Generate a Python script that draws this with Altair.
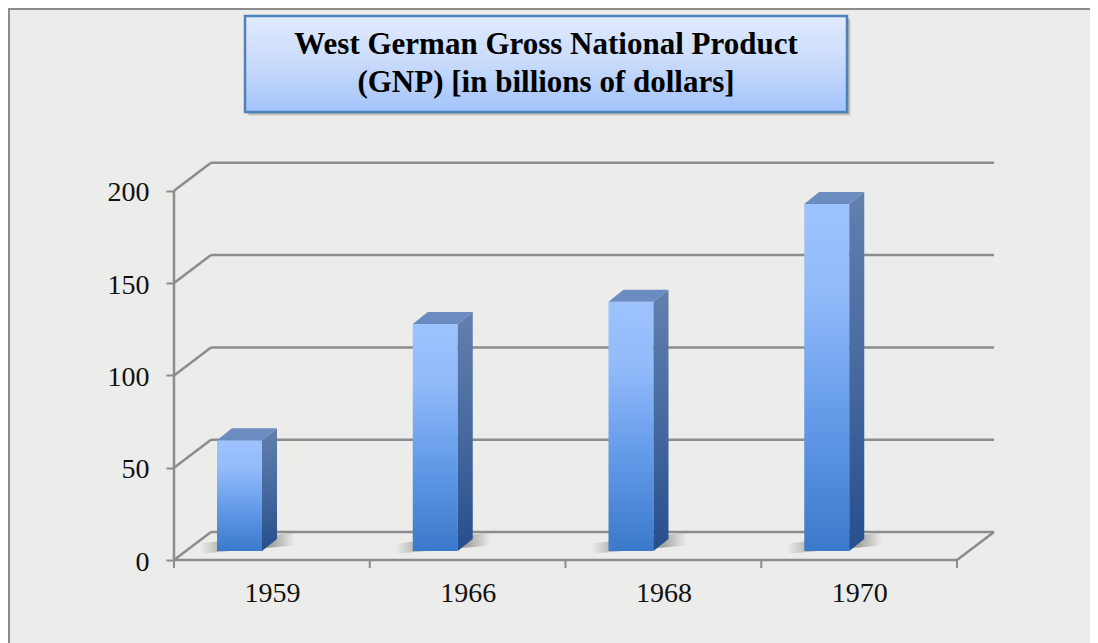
import altair as alt
import pandas as pd

years = ["1959", "1966", "1968", "1970"]
gnp = [60, 123, 135, 188]
gridvals = [0, 50, 100, 150, 200]
title_lines = ["West German Gross National Product", "(GNP) [in billions of  dollars]"]

W, H = 1082, 635
PX_X, PX_Y = 195.75, 1.846       # pixels per category / per unit
X0, Y0 = 166, 552                # origin of the front axis inside the chart
DEPTH_X, DEPTH_Y = 37 / PX_X, 28 / PX_Y
BAR_L, BAR_R = 43 / PX_X, 88 / PX_X
BAR_BASE = 9 / PX_Y
SIDE_X, SIDE_Y = 15 / PX_X, 12 / PX_Y
NCAT = len(years)

xs = alt.Scale(domain=[-X0 / PX_X, (W - X0) / PX_X], range=[0, W], nice=False, zero=False)
ys = alt.Scale(domain=[(Y0 - H) / PX_Y, Y0 / PX_Y], range=[H, 0], nice=False, zero=False)
SERIF = "Liberation Serif"
GRAY = "#8c8c8c"

x_axis = alt.Axis(
    values=[i + 0.5 for i in range(NCAT)],
    labelExpr="['" + "','".join(years) + "'][floor(datum.value)]",
    offset=-83, domain=False, ticks=False, grid=False, labelPadding=19,
    labelFont=SERIF, labelFontSize=28, labelColor="#111111", labelAngle=0,
    labelFlush=False, labelOverlap=False, title=None)
y_axis = alt.Axis(
    values=gridvals, offset=-166, domain=False, grid=False,
    tickSize=8, tickColor=GRAY, tickWidth=2, labelPadding=17, labelOffset=2,
    labelFont=SERIF, labelFontSize=28, labelColor="#111111",
    labelOverlap=False, labelFlush=False, title=None)


def X(f):
    return alt.X(f, scale=xs, title=None, axis=x_axis)


def Y(f):
    return alt.Y(f, scale=ys, title=None, stack=None, axis=y_axis)


bars = pd.DataFrame({"year": years, "i": range(NCAT), "v": gnp})
bars["x0"] = bars.i + BAR_L
bars["x1"] = bars.i + BAR_R
bars["base"] = BAR_BASE
bars["top"] = BAR_BASE + bars.v

side, topf, shadow = [], [], []
for r in bars.itertuples():
    side += [
        dict(i=r.i, x=r.x1, y=r.top, y2=r.base),
        dict(i=r.i, x=r.x1 + SIDE_X, y=r.top + SIDE_Y, y2=r.base + SIDE_Y),
    ]
    topf += [
        dict(i=r.i, x=r.x0, y=r.top, y2=r.top),
        dict(i=r.i, x=r.x0 + SIDE_X, y=r.top + SIDE_Y, y2=r.top),
        dict(i=r.i, x=r.x1, y=r.top + SIDE_Y, y2=r.top),
        dict(i=r.i, x=r.x1 + SIDE_X, y=r.top + SIDE_Y, y2=r.top + SIDE_Y),
    ]
    shadow += [
        dict(i=r.i, x=r.x0 - 17 / PX_X, y=BAR_BASE + 4, y2=BAR_BASE - 1.5),
        dict(i=r.i, x=r.x1 + 33 / PX_X, y=BAR_BASE + 10, y2=BAR_BASE + 3),
    ]

back = pd.DataFrame({"v": gridvals})
back["vb"] = back.v + DEPTH_Y
back["xa"] = DEPTH_X
back["xb"] = NCAT + DEPTH_X
diag = pd.DataFrame(
    [dict(g=v, x=0, y=v) for v in gridvals]
    + [dict(g=v, x=DEPTH_X, y=v + DEPTH_Y) for v in gridvals]
    + [dict(g=-1, x=NCAT, y=0), dict(g=-1, x=NCAT + DEPTH_X, y=DEPTH_Y)]
)
ticks = pd.DataFrame({"x": range(NCAT + 1), "y": 0.0, "y2": -8 / PX_Y})
one = pd.DataFrame({"a": [0]})


def grad(stops, x2=0, y2=1):
    return alt.Gradient(
        gradient="linear", x1=0, y1=0, x2=x2, y2=y2,
        stops=[alt.GradientStop(offset=o, color=c) for o, c in stops],
    )


g_back = alt.Chart(back).mark_rule(color=GRAY, strokeWidth=2.5).encode(
    x=X("xa:Q"), x2="xb:Q", y=Y("vb:Q"))
g_front = alt.Chart(pd.DataFrame({"a": [0.0], "b": [float(NCAT)], "v": [0.0]})).mark_rule(
    color=GRAY, strokeWidth=2.5).encode(x=X("a:Q"), x2="b:Q", y=Y("v:Q"))
g_axis = alt.Chart(pd.DataFrame({"a": [0.0], "v": [0.0], "w": [200.0]})).mark_rule(
    color=GRAY, strokeWidth=2.5).encode(x=X("a:Q"), y=Y("v:Q"), y2="w:Q")
g_diag = alt.Chart(diag).mark_line(color=GRAY, strokeWidth=2.5).encode(
    x=X("x:Q"), y=Y("y:Q"), detail="g:N")
g_ticks = alt.Chart(ticks).mark_rule(color=GRAY, strokeWidth=2).encode(
    x=X("x:Q"), y=Y("y:Q"), y2="y2:Q")

shadow_l = alt.Chart(pd.DataFrame(shadow)).mark_area(
    orient="vertical",
    color=grad([(0, "rgba(90,90,85,0)"), (0.2, "rgba(90,90,85,0.35)"),
                (0.75, "rgba(90,90,85,0.5)"), (1, "rgba(90,90,85,0)")], x2=1, y2=0),
).encode(x=X("x:Q"), y=Y("y:Q"), y2="y2:Q", detail="i:N")

side_l = alt.Chart(pd.DataFrame(side)).mark_area(
    orient="vertical",
    color=grad([(0, "#6380ad"), (0.5, "#47699f"), (1, "#264f8d")]),
).encode(x=X("x:Q"), y=Y("y:Q"), y2="y2:Q", detail="i:N")

top_l = alt.Chart(pd.DataFrame(topf)).mark_area(orient="vertical", color="#6b8cc0").encode(
    x=X("x:Q"), y=Y("y:Q"), y2="y2:Q", detail="i:N")

front_l = alt.Chart(bars).mark_rect(
    color=grad([(0, "#9dc3ff"), (0.25, "#93bbfa"), (0.6, "#659cea"), (1, "#3b79ca")]),
).encode(x=X("x0:Q"), x2="x1:Q", y=Y("top:Q"), y2="base:Q")

border_top = alt.Chart(one).mark_rule(color=GRAY, strokeWidth=2).encode(
    x=alt.value(0), x2=alt.value(W), y=alt.value(1))
border_left = alt.Chart(one).mark_rule(color=GRAY, strokeWidth=2).encode(
    x=alt.value(1), y=alt.value(0), y2=alt.value(H))

box_shadow = [
    alt.Chart(one).mark_rect(color="#555555", opacity=o).encode(
        x=alt.value(237 + d), x2=alt.value(839 + d), y=alt.value(8 + d), y2=alt.value(104 + d))
    for d, o in [(4, 0.12), (3, 0.15), (2, 0.2)]
]
box = alt.Chart(one).mark_rect(
    color=grad([(0, "#e2ebfe"), (0.5, "#c8dafb"), (1, "#a2c3fa")]),
    stroke="#4f81bd", strokeWidth=2.5,
).encode(x=alt.value(237), x2=alt.value(839), y=alt.value(8), y2=alt.value(104))

chart = alt.layer(
    g_back, g_front, g_axis, g_diag, g_ticks, shadow_l,
    front_l, side_l, top_l, border_top, border_left, *box_shadow, box,
).properties(
    width=W, height=H, padding=0, autosize=alt.AutoSizeParams(type="none"),
    background="#ececea",
    title=alt.Title(
        text=title_lines, anchor="middle", font=SERIF, fontWeight="bold", fontSize=31,
        color="#000000", lineHeight=38, baseline="top", offset=0, dx=-3, dy=92,
    ),
).configure_view(stroke=None, fill="#ececea")

chart.save("out.html", embed_options={"renderer": "svg", "actions": False})
